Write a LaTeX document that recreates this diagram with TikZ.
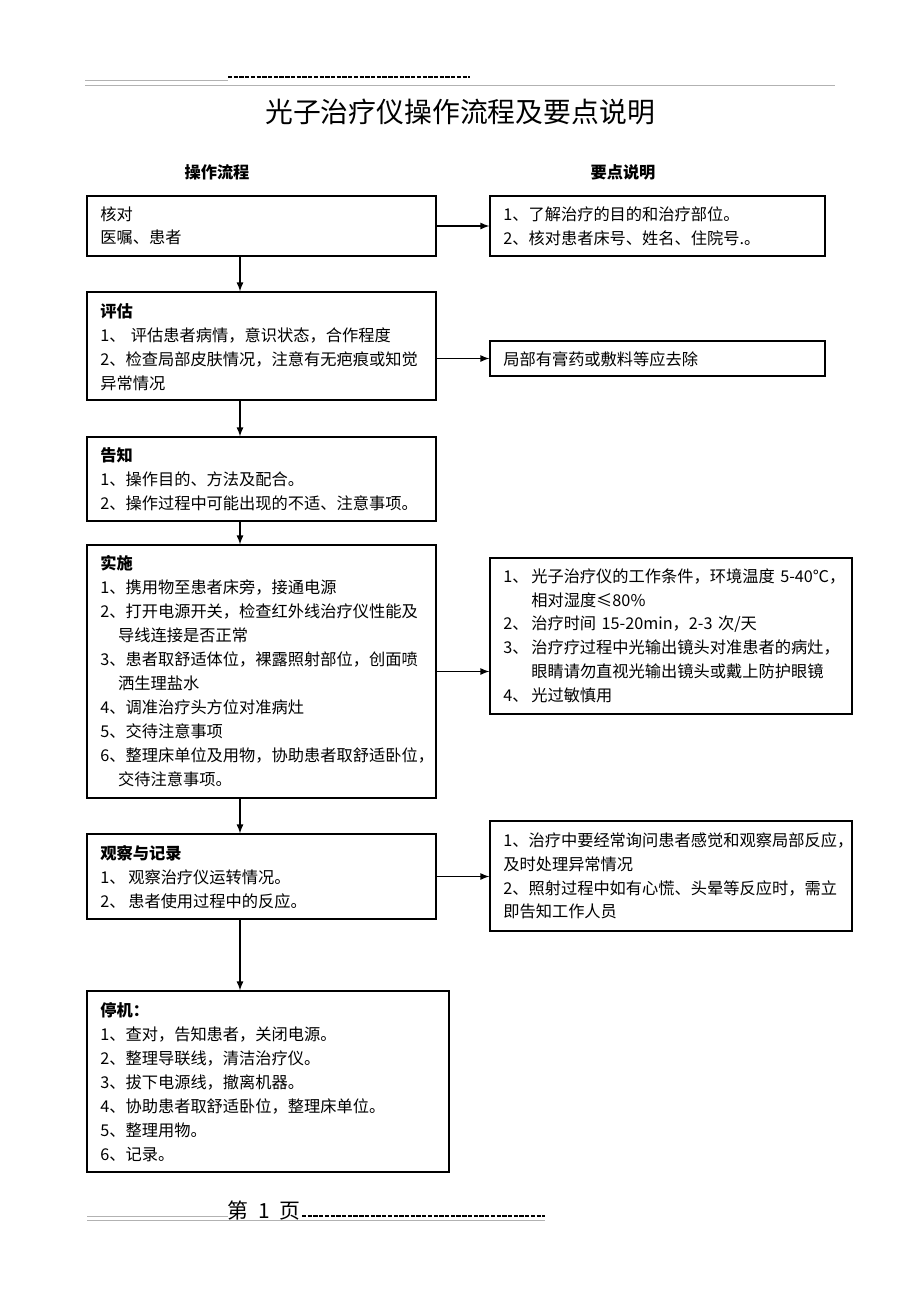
\documentclass[tikz,border=0pt]{standalone}
\usepackage{fontspec}
\setmainfont{Noto Sans CJK SC}
\usetikzlibrary{positioning, arrows, fit}
\XeTeXlinebreaklocale "zh"
\XeTeXlinebreakskip=0pt plus 2pt minus 1pt
\newcommand\spreadline[2]{\makebox[#1][s]{#2}}
\newcommand\numcol[1]{\makebox[18.1pt][l]{#1}}
\tikzset{
  flowbox/.style={draw, line width=0.8pt, inner sep=0pt},
  boxtext/.style={anchor=north west, inner sep=0pt, text width=240pt, align=left,
    font=\fontsize{10.5pt}{15.5pt}\selectfont},
  flowarrow/.style={->, line width=1pt},
  pageline/.style={draw=gray!60, line width=0.5pt},
  pagedash/.style={draw, line width=0.8pt, dash pattern=on 2.8pt off 0.9pt}
}

\begin{document}
\begin{tikzpicture}[x=0.6467pt,y=-0.6467pt,>=latex]
\useasboundingbox[fill=white] (0,0) rectangle (920,1302);
% page header and footer
\path[pageline] (85,80) -- (228,80);
\path[pagedash] (228,77) -- (470,77);
\path[pageline] (85,85) -- (835,85);
\path[pageline] (87,1216) -- (228,1216);
\node[inner sep=0pt, font=\fontsize{13.5pt}{14pt}\selectfont] (pageno) at (264,1211) {第\hspace{0.45em}1\hspace{0.45em}页};
\path[pagedash] (302,1216) -- (545,1216);
\path[pageline] (87,1220) -- (545,1220);

\node[font=\fontsize{18pt}{20pt}\selectfont] (title) at (460,112) {光子治疗仪操作流程及要点说明};
\node[font=\fontsize{10.5pt}{12pt}\selectfont\bfseries] (lefthead) at (217,172) {操作流程};
\node[font=\fontsize{10.5pt}{12pt}\selectfont\bfseries] (righthead) at (623,172) {要点说明};

% flow boxes
\node[flowbox, fit={(87,196) (436,256)}] (hedui) {};
\node[flowbox, fit={(87,292) (436,400)}] (pinggu) {};
\node[flowbox, fit={(87,437) (436,521)}] (gaozhi) {};
\node[flowbox, fit={(87,545) (436,798)}] (shishi) {};
\node[flowbox, fit={(87,834) (436,919)}] (guancha) {};
\node[flowbox, fit={(87,991) (449,1172)}] (tingji) {};
% notes
\node[flowbox, fit={(490,196) (825,256)}] (hedui note) {};
\node[flowbox, fit={(490,341) (825,376)}] (pinggu note) {};
\node[flowbox, fit={(490,558) (852,714)}] (shishi note) {};
\node[flowbox, fit={(490,821) (852,931)}] (guancha note) {};

\node[boxtext] (hedui text) at (100,206) {核对\\医嘱、患者};
\node[boxtext] (pinggu text) at (100,303) {\textbf{评估}\\
  1、\ 评估患者病情，意识状态，合作程度\\
  \spreadline{209.5pt}{2、检查局部皮肤情况，注意有无疤痕或知觉}\\
  异常情况};
\node[boxtext] (gaozhi text) at (100,447) {\textbf{告知}\\
  1、操作目的、方法及配合。\\
  2、操作过程中可能出现的不适、注意事项。};
\node[boxtext] (shishi text) at (100,555) {\textbf{实施}\\
  1、携用物至患者床旁，接通电源\\
  \spreadline{209.5pt}{2、打开电源开关，检查红外线治疗仪性能及}\\
  \hspace*{1.1em}导线连接是否正常\\
  \spreadline{209.5pt}{3、患者取舒适体位，裸露照射部位，创面喷}\\
  \hspace*{1.1em}洒生理盐水\\
  4、调准治疗头方位对准病灶\\
  5、交待注意事项\\
  \spreadline{212pt}{6、整理床单位及用物，协助患者取舒适卧位，}\\
  \hspace*{1.1em}交待注意事项。};
\node[boxtext] (guancha text) at (100,845) {\textbf{观察与记录}\\
  \numcol{1、}观察治疗仪运转情况。\\
  \numcol{2、}患者使用过程中的反应。};
\node[boxtext] (tingji text) at (100,1002) {\textbf{停机：}\\
  1、查对，告知患者，关闭电源。\\
  2、整理导联线，清洁治疗仪。\\
  3、拔下电源线，撤离机器。\\
  4、协助患者取舒适卧位，整理床单位。\\
  5、整理用物。\\
  6、记录。};

\node[boxtext] (hedui note text) at (503,206) {1、了解治疗的目的和治疗部位。\\
  2、核对患者床号、姓名、住院号.。};
\node[boxtext] (pinggu note text) at (503,351) {局部有膏药或敷料等应去除};
\node[boxtext] (shishi note text) at (503,568) {\numcol{1、}\spreadline{198.5pt}{光子治疗仪的工作条件，环境温度 5-40℃，}\\
  \numcol{}相对湿度≤80\%\\
  \numcol{2、}治疗时间 15-20min，2-3 次/天\\
  \numcol{3、}\spreadline{198.5pt}{治疗疗过程中光输出镜头对准患者的病灶，}\\
  \numcol{}眼睛请勿直视光输出镜头或戴上防护眼镜\\
  \numcol{4、}光过敏慎用};
\node[boxtext] (guancha note text) at (503,832) {\spreadline{218pt}{1、治疗中要经常询问患者感觉和观察局部反应，}\\
  及时处理异常情况\\
  \spreadline{218pt}{2、照射过程中如有心慌、头晕等反应时，需立}\\
  即告知工作人员};

% connectors
\coordinate (spine) at (240,0);
\draw[flowarrow] (hedui.south -| spine) -- (pinggu.north -| spine);
\draw[flowarrow] (pinggu.south -| spine) -- (gaozhi.north -| spine);
\draw[flowarrow] (gaozhi.south -| spine) -- (shishi.north -| spine);
\draw[flowarrow] (shishi.south -| spine) -- (guancha.north -| spine);
\draw[flowarrow] (guancha.south -| spine) -- (tingji.north -| spine);
\draw[flowarrow] (hedui.east) -- (hedui note.west);
\draw[flowarrow] (pinggu note.west -| pinggu.east) -- (pinggu note.west);
\draw[flowarrow] (shishi.east) -- (shishi.east -| shishi note.west);
\draw[flowarrow] (guancha.east) -- (guancha.east -| guancha note.west);
\end{tikzpicture}
\end{document}
